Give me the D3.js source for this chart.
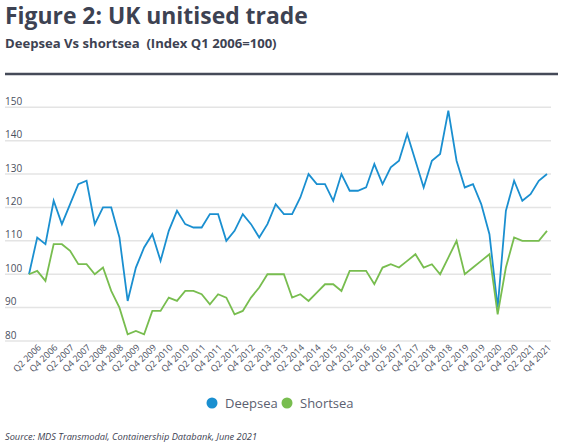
<!DOCTYPE html>
<html><head><meta charset="utf-8">
<script src="https://cdn.jsdelivr.net/npm/d3@7"></script>
<style>
html,body{margin:0;padding:0;background:#fff;}
svg{display:block;font-family:"Open Sans",sans-serif;}
</style></head>
<body>
<svg id="c" width="567" height="445"></svg>
<script>
// ---- data ----
const years = d3.range(2006, 2022);
const quarters = years.flatMap(y => [1,2,3,4].map(q => `Q${q} ${y}`));
const deepsea = [100,111,109,122,115,121,127,128,115,120,120,111,92,102,108,112,
  104,113,119,115,114,114,118,118,110,113,118,115,111,115,121,118,
  118,123,130,127,127,122,130,125,125,126,133,127,132,134,142,134,
  126,134,136,149,134,126,127,121,112,90,119,128,122,124,128,130];
const shortsea = [100,101,98,109,109,107,103,103,100,102,95,90,82,83,82,89,
  89,93,92,95,95,94,91,94,93,88,89,93,96,100,100,100,
  93,94,92,94.5,97,97,95,101,101,101,97,102,103,102,104,106,
  102,103,100,105,110,100,102,104,106,88,102,111,110,110,110,113];
const yTicks = [80,90,100,110,120,130,140,150];
const xTickLabels = quarters.filter((d,i) => i % 2 === 1);
const seriesNames = ["Deepsea","Shortsea"];
const colors = ["#1a8fd0","#78bd4f"];

const svg = d3.select("#c");
const textDark = "#3d4252";

function fitText(sel, size, width){
  sel.attr("font-size", size);
  const w = sel.node().getComputedTextLength();
  sel.attr("font-size", size*width/w);
}

// title
const title = svg.append("text").attr("x",5).attr("y",24)
  .attr("font-weight",700).attr("fill",textDark)
  .text("Figure 2: UK unitised trade");
fitText(title, 24, 303);

const sub = svg.append("text").attr("x",5).attr("y",48)
  .attr("font-weight",700).attr("fill",textDark)
  .attr("xml:space","preserve")
  .text("Deepsea Vs shortsea  (Index Q1 2006=100)");
fitText(sub, 13, 272);

svg.append("line").attr("x1",5).attr("x2",558).attr("y1",74).attr("y2",74)
  .attr("stroke","#454a58").attr("stroke-width",2.3);

// scales
const x = d3.scalePoint().domain(quarters).range([29,547]);
const y = d3.scaleLinear().domain([80,150]).range([341,107.3]);

// gridlines + y labels
const gy = svg.append("g");
gy.selectAll("line").data(yTicks).join("line")
  .attr("x1",5).attr("x2",551).attr("y1",d=>y(d)).attr("y2",d=>y(d))
  .attr("stroke","#e4e4e4").attr("stroke-width",1.5);
gy.selectAll("text").data(yTicks).join("text")
  .attr("x",5).attr("y",d=>y(d)-2.5)
  .attr("font-size",10).attr("fill","#4a4f5e").text(d=>d);

// x labels
const gx = svg.append("g").attr("transform","translate(0,341)");
const xAxis = d3.axisBottom(x).tickValues(xTickLabels).tickSize(0).tickPadding(0);
gx.call(xAxis);
gx.select(".domain").remove();
gx.selectAll(".tick text")
  .attr("font-family","Open Sans, sans-serif")
  .attr("font-size",9).attr("fill","#4a4f5e")
  .attr("text-anchor","end").attr("dy",null).attr("y",0)
  .attr("transform","translate(4,7) rotate(-45)");

// lines
const line = d3.line().x((d,i)=>x(quarters[i])).y(d=>y(d));
[deepsea, shortsea].forEach((s,k)=>{
  svg.append("path").datum(s).attr("d",line).attr("fill","none")
    .attr("stroke",colors[k]).attr("stroke-width",1.8)
    .attr("stroke-linejoin","miter");
});

// legend
const lg = svg.append("g");
const legX = [212, 287];
seriesNames.forEach((n,k)=>{
  lg.append("circle").attr("cx",legX[k]).attr("cy",403).attr("r",5.5).attr("fill",colors[k]);
  lg.append("text").attr("x",legX[k]+13).attr("y",407.5).attr("font-size",13)
    .attr("fill","#5b6070").text(n);
});

// source
const src = svg.append("text").attr("x",5).attr("y",440)
  .attr("font-style","italic").attr("fill",textDark)
  .text("Source: MDS Transmodal, Containership Databank, June 2021");
fitText(src, 9.5, 252);
</script>
</body></html>
